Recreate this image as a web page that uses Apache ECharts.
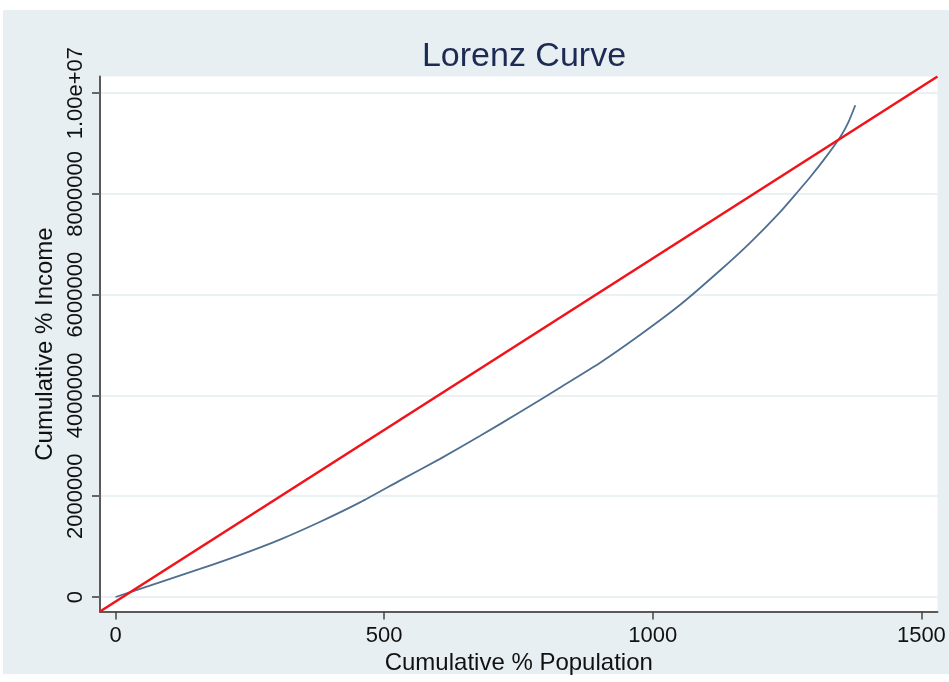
<!DOCTYPE html>
<html>
<head>
<meta charset="utf-8">
<script src="https://cdn.jsdelivr.net/npm/echarts@6/dist/echarts.min.js"></script>
<style>
  html, body { margin: 0; padding: 0; background: #fff; }
  .bg { position: absolute; left: 3px; top: 10px; width: 946px; height: 664px; background: #e8eff2; }
  #chart { position: absolute; left: 0; top: 0; width: 949px; height: 682px; }
</style>
</head>
<body>
<div class="bg"></div>
<div id="chart"></div>
<script>
// Lorenz curve points
const popShare = [0, 82, 157, 231, 306, 380, 455, 529, 604, 678, 753, 827, 902, 976, 1051, 1125, 1181, 1237, 1268, 1292, 1320, 1349, 1364, 1377];
const incomeShare = [0, 291000, 557000, 833000, 1140000, 1489000, 1878000, 2310000, 2742000, 3194000, 3670000, 4155000, 4650000, 5200000, 5800000, 6480000, 7030000, 7640000, 8020000, 8320000, 8700000, 9130000, 9420000, 9760000];

// line of equality, corner to corner of the plot
const equalityPop = [-29, 1530];
const equalityInc = [-287500, 10330000];

const xTicks = [0, 500, 1000, 1500];
const yTicks = [0, 2000000, 4000000, 6000000, 8000000, 10000000];
const yTickLabels = ['0', '2000000', '4000000', '6000000', '8000000', '1.00e+07'];

const font = '"Liberation Sans Narrow", "Liberation Sans", Arial, sans-serif';

const chart = echarts.init(document.getElementById('chart'));

const option = {
  backgroundColor: 'transparent',
  animation: false,
  title: {
    text: 'Lorenz Curve',
    left: 519,
    top: 35,
    textAlign: 'center',
    textStyle: { color: '#1c2a54', fontFamily: font, fontSize: 34, fontWeight: 'normal' }
  },
  grid: {
    left: 100,
    top: 76.5,
    right: 11.5,
    bottom: 70.5,
    show: true,
    backgroundColor: '#fff',
    borderWidth: 0
  },
  xAxis: {
    type: 'value',
    min: equalityPop[0],
    max: equalityPop[1],
    name: 'Cumulative % Population',
    nameLocation: 'middle',
    nameGap: 37,
    nameTextStyle: { color: '#111', fontFamily: font, fontSize: 24 },
    axisLine: { show: true, onZero: false, lineStyle: { color: '#5a5a5a', width: 2 } },
    axisTick: { show: true, length: 8, customValues: xTicks, lineStyle: { color: '#444', width: 1.5 } },
    axisLabel: {
      customValues: xTicks,
      showMaxLabel: true,
      showMinLabel: true,
      color: '#111',
      fontFamily: font,
      fontSize: 22,
      margin: 13,
      formatter: (v) => String(v)
    },
    splitLine: { show: false }
  },
  yAxis: {
    type: 'value',
    min: equalityInc[0],
    max: equalityInc[1],
    name: 'Cumulative % Income',
    nameLocation: 'middle',
    nameGap: 42,
    nameTextStyle: { color: '#111', fontFamily: font, fontSize: 24 },
    axisLine: { show: true, onZero: false, lineStyle: { color: '#5a5a5a', width: 2 } },
    axisTick: { show: true, length: 8, customValues: yTicks, lineStyle: { color: '#666', width: 2 } },
    axisLabel: {
      customValues: yTicks,
      showMaxLabel: true,
      showMinLabel: true,
      hideOverlap: false,
      rotate: 90,
      color: '#111',
      fontFamily: font,
      fontSize: 22,
      margin: 13,
      formatter: (v) => {
        const i = yTicks.indexOf(v);
        return i >= 0 ? yTickLabels[i] : String(v);
      }
    },
    splitLine: { show: true, lineStyle: { color: '#eaf1f2', width: 2 } }
  },
  series: [
    {
      name: 'Lorenz',
      type: 'line',
      data: popShare.map((p, i) => [p, incomeShare[i]]),
      smooth: 0.2,
      showSymbol: false,
      lineStyle: { color: '#4f6f91', width: 1.8 },
      z: 2
    },
    {
      name: 'Equality',
      type: 'line',
      data: equalityPop.map((p, i) => [p, equalityInc[i]]),
      showSymbol: false,
      lineStyle: { color: '#f0141a', width: 2.6 },
      z: 3
    }
  ]
};

chart.setOption(option);
</script>
</body>
</html>
